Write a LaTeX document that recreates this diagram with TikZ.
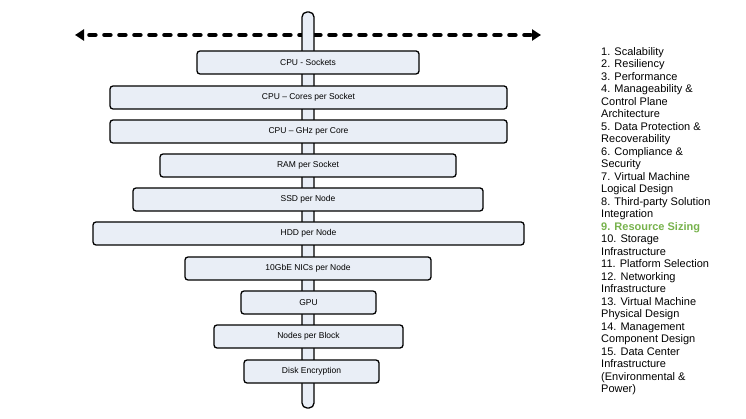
\documentclass[tikz,border=0pt]{standalone}
\usepackage{fontspec}
\setmainfont{Liberation Sans}
\usetikzlibrary{arrows.meta}
\definecolor{barfill}{HTML}{E9EEF6}
\definecolor{sizegreen}{HTML}{77B24C}
\tikzset{
  bar/.style={draw, line width=1.3pt, rounded corners=3pt, fill=barfill},
  item/.style={bar, minimum height=23pt, inner sep=0pt, font=\fontsize{8.5}{9}\selectfont}
}
\begin{document}
\begin{tikzpicture}[x=1pt,y=-1pt]
            \useasboundingbox (0,0) rectangle (746,419);
            \coordinate (L) at (75,35);
            \coordinate (R) at (541,35);
            \draw[line width=4.5pt, line cap=round, dash pattern=on 6pt off 9pt, dash phase=-6pt, {Triangle[length=9pt,width=11pt]}-{Triangle[length=9pt,width=11pt]}] (L) -- (R);
            \node[bar, minimum width=12pt, minimum height=396pt, inner sep=0pt, rounded corners=5pt] (axis) at (308,210) {};

            \node[item, minimum width=222pt] (sockets) at (308,62.5) {CPU - Sockets};
            \node[item, minimum width=397pt] (cores) at (308.5,97.5) {CPU -- Cores per Socket};
            \node[item, minimum width=397pt] (ghz) at (308.5,131.5) {CPU -- GHz per Core};
            \node[item, minimum width=296pt] (ram) at (308,165.5) {RAM per Socket};
            \node[item, minimum width=350pt] (ssd) at (308,199.5) {SSD per Node};
            \node[item, minimum width=431pt] (hdd) at (308.5,233.5) {HDD per Node};
            \node[item, minimum width=246pt] (nic) at (308,268.5) {10GbE NICs per Node};
            \node[item, minimum width=135pt] (gpu) at (308.5,302.5) {GPU};
            \node[item, minimum width=189pt] (block) at (308.5,336.5) {Nodes per Block};
            \node[item, minimum width=135pt] (crypt) at (311.5,371.5) {Disk Encryption};

            \node[anchor=north west, align=left, inner sep=0pt, font=\fontsize{11}{12.5}\selectfont] (list) at (601,47) {%
              1. Scalability\\ 2. Resiliency\\ 3. Performance\\ 4. Manageability \&\\ Control Plane\\ Architecture\\
              5. Data Protection \&\\ Recoverability\\ 6. Compliance \&\\ Security\\ 7. Virtual Machine\\ Logical Design\\
              8. Third-party Solution\\ Integration\\ \textcolor{sizegreen}{\textbf{9. Resource Sizing}}\\ 10. Storage\\ Infrastructure\\
              11. Platform Selection\\ 12. Networking\\ Infrastructure\\ 13. Virtual Machine\\ Physical Design\\
              14. Management\\ Component Design\\ 15. Data Center\\ Infrastructure\\ (Environmental \&\\ Power)};
        \end{tikzpicture}
\end{document}
